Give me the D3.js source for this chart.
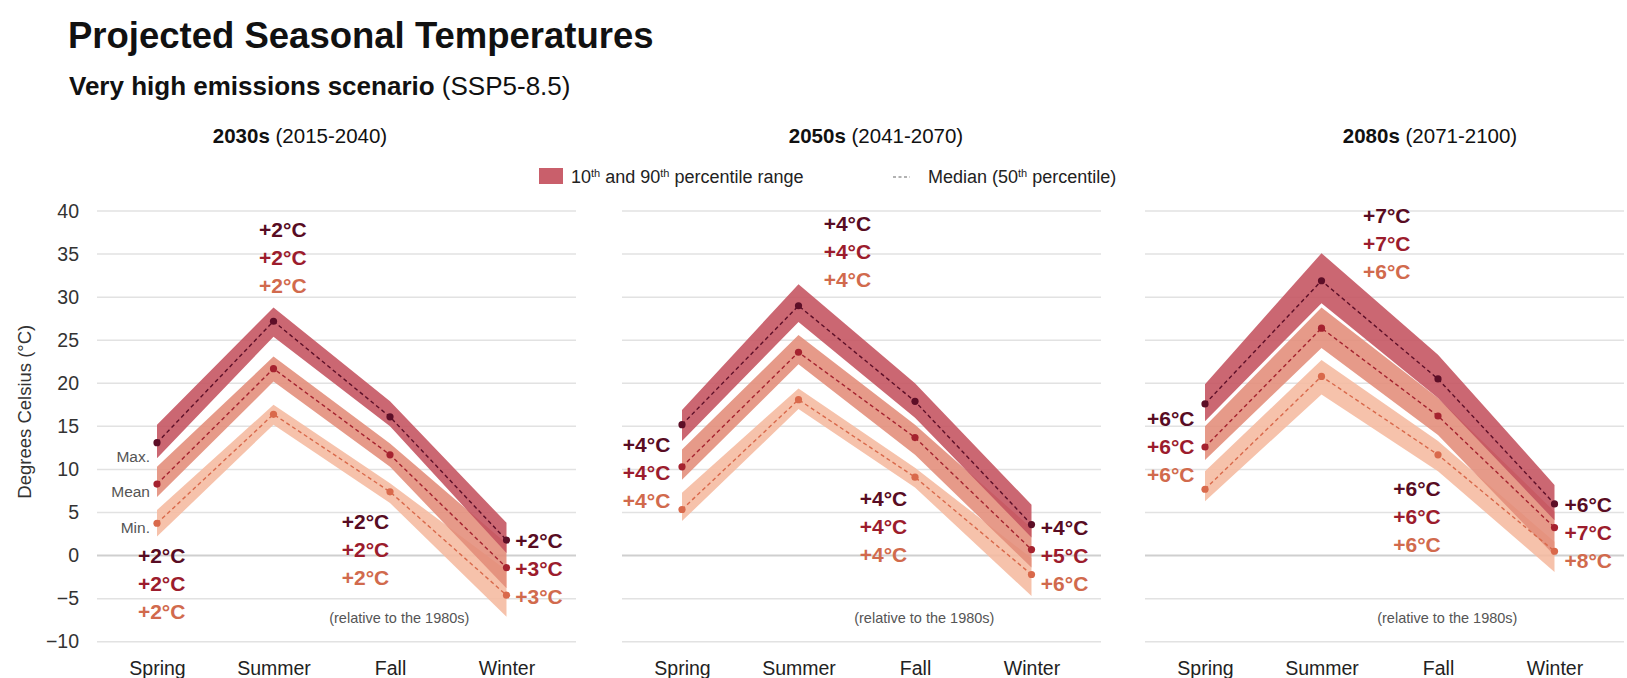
<!DOCTYPE html>
<html>
<head>
<meta charset="utf-8">
<script src="https://cdn.jsdelivr.net/npm/d3@7"></script>
<style>
  body { margin: 0; background: #fff; }
  svg text { font-family: "Liberation Sans", Arial, Helvetica, sans-serif; }
</style>
</head>
<body>
<svg id="chart" width="1627" height="678"></svg>
<script>
// ---- Data ----------------------------------------------------------------
const seasons = ["Spring", "Summer", "Fall", "Winter"];
const yTicks = [40, 35, 30, 25, 20, 15, 10, 5, 0, -5, -10];
const periods = ["2030s", "2050s", "2080s"];
const periodYears = ["(2015-2040)", "(2041-2070)", "(2071-2100)"];
const seriesNames = ["Max.", "Mean", "Min."];

// 2030s: median, 10th and 90th percentile (°C), by season
const max2030sMedian = [13.1, 27.2, 16.1, 1.8];
const max2030sP10    = [11.3, 25.4, 15.0, 0.3];
const max2030sP90    = [15.2, 28.8, 17.9, 3.8];
const mean2030sMedian = [8.3, 21.7, 11.7, -1.4];
const mean2030sP10    = [6.8, 20.2, 10.3, -3.8];
const mean2030sP90    = [10.3, 23.1, 13.0, 1.4];
const min2030sMedian = [3.75, 16.4, 7.4, -4.6];
const min2030sP10    = [2.2, 15.2, 6.1, -7.1];
const min2030sP90    = [5.3, 17.5, 8.4, -1.7];

// 2050s
const max2050sMedian = [15.2, 29.0, 17.9, 3.6];
const max2050sP10    = [13.3, 27.1, 16.0, 2.1];
const max2050sP90    = [16.9, 31.5, 20.0, 5.9];
const mean2050sMedian = [10.3, 23.6, 13.7, 0.7];
const mean2050sP10    = [8.8, 22.2, 11.7, -1.4];
const mean2050sP90    = [12.3, 25.6, 15.2, 3.2];
const min2050sMedian = [5.35, 18.1, 9.1, -2.2];
const min2050sP10    = [4.0, 17.0, 7.9, -4.7];
const min2050sP90    = [7.3, 19.4, 10.2, -0.3];

// 2080s
const max2080sMedian = [17.6, 31.9, 20.5, 6.0];
const max2080sP10    = [15.6, 29.3, 18.3, 4.1];
const max2080sP90    = [19.9, 35.1, 23.3, 8.2];
const mean2080sMedian = [12.6, 26.4, 16.2, 3.25];
const mean2080sP10    = [11.1, 24.1, 14.0, 0.0];
const mean2080sP90    = [15.0, 28.8, 18.3, 5.1];
const min2080sMedian = [7.7, 20.8, 11.7, 0.5];
const min2080sP10    = [6.3, 18.7, 9.8, -1.9];
const min2080sP90    = [9.8, 22.7, 13.3, 1.6];

// Change relative to the 1980s (°C), per season: [max, mean, min]
const change2030s = [[2, 2, 2], [2, 2, 2], [2, 2, 2], [2, 3, 3]];
const change2050s = [[4, 4, 4], [4, 4, 4], [4, 4, 4], [4, 5, 6]];
const change2080s = [[6, 6, 6], [7, 7, 6], [6, 6, 6], [6, 7, 8]];

// ---- Assemble panels ---------------------------------------------------------
const panelData = [
  { max: [max2030sMedian, max2030sP10, max2030sP90], mean: [mean2030sMedian, mean2030sP10, mean2030sP90], min: [min2030sMedian, min2030sP10, min2030sP90], change: change2030s },
  { max: [max2050sMedian, max2050sP10, max2050sP90], mean: [mean2050sMedian, mean2050sP10, mean2050sP90], min: [min2050sMedian, min2050sP10, min2050sP90], change: change2050s },
  { max: [max2080sMedian, max2080sP10, max2080sP90], mean: [mean2080sMedian, mean2080sP10, mean2080sP90], min: [min2080sMedian, min2080sP10, min2080sP90], change: change2080s }
];

// ---- Layout & style ------------------------------------------------------------
const panelX0 = [97, 622, 1145];
const panelWidth = 479;
const catInset = 60, catStep = 116.5;
const panelTitleX = [300, 876, 1430];

const bandColors = { max: "#c4525f", mean: "#e38c79", min: "#f5b99f" };
const lineColors = { max: "#5c0e27", mean: "#a5222f", min: "#d9694b" };
const labelColors = ["#580c23", "#9c1c2d", "#d16a4d"];

// Change-label placement: dx in category steps, y of the first line in °C,
// anchor; the three lines are stacked 28px apart.
const labelLayout = [
  [ { dx: 0.04, y: 0.0, a: "middle" }, { dx: 0.08, y: 37.9, a: "middle" }, { dx: -0.21, y: 3.95, a: "middle" }, { dx: 0.075, y: 1.8, a: "start" } ],
  [ { dx: -0.1, y: 12.9, a: "end" },   { dx: 0.42, y: 38.6, a: "middle" }, { dx: -0.27, y: 6.6, a: "middle" },  { dx: 0.08, y: 3.3, a: "start" } ],
  [ { dx: -0.09, y: 15.9, a: "end" },  { dx: 0.56, y: 39.5, a: "middle" }, { dx: -0.18, y: 7.8, a: "middle" },  { dx: 0.086, y: 5.9, a: "start" } ]
];

const svg = d3.select("#chart");

const y = d3.scaleLinear().domain([-10, 40]).range([641.7, 211]);

// ---- Titles ------------------------------------------------------------------
svg.append("text").attr("x", 68).attr("y", 48)
  .attr("font-size", 36.5).attr("font-weight", "bold").attr("fill", "#111")
  .text("Projected Seasonal Temperatures");

const sub = svg.append("text").attr("x", 69).attr("y", 95)
  .attr("font-size", 26).attr("fill", "#111");
sub.append("tspan").attr("font-weight", "bold").text("Very high emissions scenario ");
sub.append("tspan").text("(SSP5-8.5)");

periods.forEach((p, i) => {
  const t = svg.append("text").attr("x", panelTitleX[i]).attr("y", 143)
    .attr("text-anchor", "middle").attr("font-size", 20.5).attr("fill", "#111");
  t.append("tspan").attr("font-weight", "bold").text(p + " ");
  t.append("tspan").text(periodYears[i]);
});

// ---- Legend ------------------------------------------------------------------
const lg = svg.append("g").attr("font-size", 18).attr("fill", "#222");
lg.append("rect").attr("x", 539).attr("y", 168).attr("width", 24).attr("height", 16)
  .attr("fill", "#c95f6b");
const lt1 = lg.append("text").attr("x", 571).attr("y", 183);
lt1.append("tspan").text("10");
lt1.append("tspan").attr("font-size", 11).attr("dy", -6).text("th");
lt1.append("tspan").attr("dy", 6).text(" and 90");
lt1.append("tspan").attr("font-size", 11).attr("dy", -6).text("th");
lt1.append("tspan").attr("dy", 6).text(" percentile range");
lg.append("line").attr("x1", 893).attr("x2", 910).attr("y1", 177).attr("y2", 177)
  .attr("stroke", "#999").attr("stroke-width", 1.3).attr("stroke-dasharray", "3,2.5");
const lt2 = lg.append("text").attr("x", 928).attr("y", 183);
lt2.append("tspan").text("Median (50");
lt2.append("tspan").attr("font-size", 11).attr("dy", -6).text("th");
lt2.append("tspan").attr("dy", 6).text(" percentile)");

// ---- Y axis ------------------------------------------------------------------
const yAxis = d3.axisLeft(y).tickValues(yTicks).tickSize(0).tickPadding(0)
  .tickFormat(d3.format("d"));
svg.append("g").attr("transform", "translate(79,0)").call(yAxis)
  .call(g => g.select(".domain").remove())
  .call(g => g.selectAll("text").attr("font-size", 19.5).attr("fill", "#333")
    .attr("font-family", "'Liberation Sans', Arial, sans-serif"));

svg.append("text")
  .attr("transform", `translate(24,${y(16.7)}) rotate(-90)`)
  .attr("text-anchor", "middle").attr("dominant-baseline", "central")
  .attr("font-size", 18.5).attr("fill", "#333")
  .text("Degrees Celsius (°C)");

// ---- Panels ------------------------------------------------------------------
panelData.forEach((pd, pi) => {
  const x0 = panelX0[pi];
  const x = d3.scalePoint().domain(seasons)
    .range([x0 + catInset, x0 + catInset + catStep * 3]);
  const g = svg.append("g");

  // grid
  g.append("g").selectAll("line").data(yTicks).join("line")
    .attr("x1", x0).attr("x2", x0 + panelWidth)
    .attr("y1", d => y(d)).attr("y2", d => y(d))
    .attr("stroke", d => d === 0 ? "#cfcfcf" : "#e2e2e2")
    .attr("stroke-width", d => d === 0 ? 2 : 1.5);

  // season labels
  const xAxis = d3.axisBottom(x).tickSize(0).tickPadding(0);
  g.append("g").attr("transform", "translate(0,668)").call(xAxis)
    .call(a => a.select(".domain").remove())
    .call(a => a.selectAll("text").attr("font-size", 19.5).attr("fill", "#222")
      .attr("dy", "0.35em")
      .attr("font-family", "'Liberation Sans', Arial, sans-serif"));

  const keys = ["min", "mean", "max"];
  // percentile bands
  keys.forEach(k => {
    const [med, lo, hi] = pd[k];
    const area = d3.area()
      .x((d, i) => x(seasons[i]))
      .y0((d, i) => y(lo[i]))
      .y1((d, i) => y(hi[i]));
    g.append("path").datum(med).attr("d", area)
      .attr("fill", bandColors[k]).attr("fill-opacity", 0.88);
  });
  // medians
  keys.forEach(k => {
    const med = pd[k][0];
    const line = d3.line().x((d, i) => x(seasons[i])).y(d => y(d));
    g.append("path").datum(med).attr("d", line)
      .attr("fill", "none").attr("stroke", lineColors[k])
      .attr("stroke-width", 1.4).attr("stroke-dasharray", "4,3");
    g.append("g").selectAll("circle").data(med).join("circle")
      .attr("cx", (d, i) => x(seasons[i])).attr("cy", d => y(d))
      .attr("r", 3.6).attr("fill", lineColors[k]);
  });

  // change labels
  seasons.forEach((s, si) => {
    const L = labelLayout[pi][si];
    pd.change[si].forEach((v, li) => {
      g.append("text")
        .attr("x", x(s) + L.dx * catStep)
        .attr("y", y(L.y) + li * 28)
        .attr("dominant-baseline", "central")
        .attr("text-anchor", L.a)
        .attr("font-size", 21).attr("font-weight", "bold")
        .attr("fill", labelColors[li])
        .text(`+${v}°C`);
    });
  });

  // note
  g.append("text").attr("x", x("Fall") + 0.08 * catStep).attr("y", y(-7.3))
    .attr("text-anchor", "middle").attr("dominant-baseline", "central")
    .attr("font-size", 14.5).attr("fill", "#555")
    .text("(relative to the 1980s)");

  // series names beside the first panel
  if (pi === 0) {
    const nameY = [11.5, 7.4, 3.3];
    seriesNames.forEach((n, i) => {
      g.append("text").attr("x", x("Spring") - 7).attr("y", y(nameY[i]))
        .attr("text-anchor", "end").attr("dominant-baseline", "central")
        .attr("font-size", 15.5).attr("fill", "#555").text(n);
    });
  }
});
</script>
</body>
</html>
